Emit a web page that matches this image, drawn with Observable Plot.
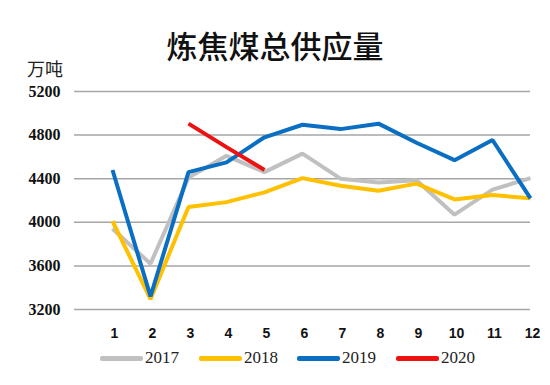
<!DOCTYPE html>
<html>
<head>
<meta charset="utf-8">
<script src="https://cdn.jsdelivr.net/npm/d3@7"></script>
<script src="https://cdn.jsdelivr.net/npm/@observablehq/plot@0.6"></script>
<style>
  body { margin: 0; background: #fff; }
  #wrap { position: relative; width: 550px; height: 385px; overflow: hidden; background: #fff; }
  #title { position: absolute; left: 0; top: 25px; width: 550px; text-align: center; font: 500 31px "Noto Sans CJK SC", sans-serif; line-height: 40px; color: #111; }
  #unit { position: absolute; left: 27px; top: 57px; font: 18px "Noto Sans CJK SC", sans-serif; line-height: 22px; color: #222; }
  #chart { position: absolute; left: 0; top: 80px; }
  .lg-sw { position: absolute; top: 356px; width: 43px; height: 5px; border-radius: 2px; }
  .lg-tx { position: absolute; top: 347px; font: 17px "Liberation Serif", serif; line-height: 22px; color: #222; }
</style>
</head>
<body>
<div id="wrap">
  <div id="title">炼焦煤总供应量</div>
  <div id="unit">万吨</div>
  <div id="chart"></div>
  <div id="legend"></div>
</div>
<script>
const months = [1,2,3,4,5,6,7,8,9,10,11,12];
const yTicks = [3200,3600,4000,4400,4800,5200];
const seriesNames = ["2017","2018","2019","2020"];
const seriesColors = ["#c0c0c0","#ffc000","#0a6fc2","#ee1111"];
const v2017 = [3940,3620,4410,4610,4460,4630,4400,4365,4385,4070,4300,4405];
const v2018 = [4010,3295,4140,4185,4275,4405,4335,4290,4355,4210,4250,4220];
const v2019 = [4480,3320,4460,4550,4780,4895,4855,4905,4730,4570,4755,4220];
const v2020 = [null,null,4905,4690,4480];

const seriesValues = [v2017, v2018, v2019, v2020];
const rows = [];
seriesNames.forEach((s, i) => {
  seriesValues[i].forEach((v, j) => {
    if (v != null) rows.push({series: s, month: months[j], value: v});
  });
});

const chart = Plot.plot({
  width: 550,
  height: 265,
  marginTop: 11,
  marginBottom: 36,
  marginLeft: 74,
  marginRight: 20,
  x: {domain: [0, 12], type: "linear", label: null},
  y: {domain: [3200, 5200], label: null},
  color: {domain: seriesNames, range: seriesColors},
  marks: [
    Plot.ruleY(yTicks, {x1: 0, x2: 12, stroke: "#a6a6a6", strokeWidth: 1.5}),
    Plot.axisY({ticks: yTicks, tickSize: 0, tickPadding: 14, tickFormat: d => String(d), label: null, fill: "#111"}),
    Plot.axisX({ticks: months, tickSize: 0, tickPadding: 19, tickFormat: d => String(d), dx: 2, label: null, fill: "#111"}),
    Plot.line(rows, {x: "month", y: "value", z: "series", stroke: "series",
      strokeWidth: 4, strokeLinejoin: "miter", strokeLinecap: "butt"})
  ]
});
document.getElementById("chart").appendChild(chart);

const yStr = yTicks.map(String);
const mStr = months.map(String);
d3.select(chart).selectAll("text").each(function() {
  const t = this.textContent.trim();
  const sel = d3.select(this);
  if (yStr.includes(t)) {
    sel.style("font-family", '"Liberation Serif", serif').style("font-weight", "bold").style("font-size", "16px");
  } else if (mStr.includes(t)) {
    sel.style("font-family", '"Liberation Sans", sans-serif').style("font-weight", "bold").style("font-size", "14px");
  }
});

const legend = document.getElementById("legend");
const swLeft = [100, 199, 297, 396];
seriesNames.forEach((s, i) => {
  const sw = document.createElement("div");
  sw.className = "lg-sw";
  sw.style.left = swLeft[i] + "px";
  sw.style.background = seriesColors[i];
  legend.appendChild(sw);
  const tx = document.createElement("div");
  tx.className = "lg-tx";
  tx.style.left = (swLeft[i] + 45) + "px";
  tx.textContent = s;
  legend.appendChild(tx);
});
</script>
</body>
</html>
